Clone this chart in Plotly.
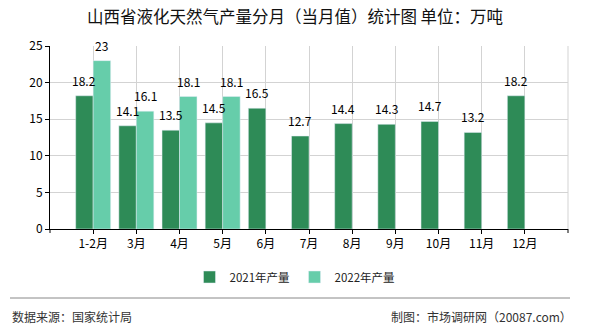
import plotly.graph_objects as go

months = ["1-2月", "3月", "4月", "5月", "6月", "7月", "8月", "9月", "10月", "11月", "12月"]
y2021 = [18.2, 14.1, 13.5, 14.5, 16.5, 12.7, 14.4, 14.3, 14.7, 13.2, 18.2]
y2022 = [23, 16.1, 18.1, 18.1, None, None, None, None, None, None, None]
name2021 = "2021年产量"
name2022 = "2022年产量"
title = "山西省液化天然气产量分月（当月值）统计图 单位：万吨"
source = "数据来源：国家统计局"
credit = "制图：市场调研网（20087.com）"
yticks = [0, 5, 10, 15, 20, 25]

FONT = "Noto Sans CJK SC"
DARK = "#2E8B57"
LIGHT = "#66CDAA"

# plot area in pixels
L, R, T, B = 50, 568, 46, 229
PW, PH = R - L, B - T
XRANGE = [-1, 11]
BARGAP = 0.19


def px(x):
    return (x - L) / PW


def py(y):
    return (B - y) / PH


def fmt(v):
    return "%g" % v


fig = go.Figure()
fig.add_trace(go.Bar(x=months, y=y2021, name=name2021, marker_color=DARK))
fig.add_trace(go.Bar(x=months, y=y2022, name=name2022, marker_color=LIGHT))

# value labels placed above each bar (bar half-width derived from axis geometry)
cat_px = PW / (XRANGE[1] - XRANGE[0])
half_bar = cat_px * (1 - BARGAP) / 4
for series, sign in ((y2021, -1), (y2022, 1)):
    for m, v in zip(months, series):
        if v is None:
            continue
        fig.add_annotation(x=m, y=v, text=fmt(v), showarrow=False,
                           xshift=sign * half_bar, yanchor="bottom", yshift=5,
                           font=dict(family=FONT, size=12, color="#000"))

fig.update_layout(
    width=590, height=330,
    margin=dict(l=L, r=590 - R, t=T, b=330 - B),
    paper_bgcolor="white", plot_bgcolor="white",
    barmode="group", bargap=BARGAP, bargroupgap=0,
    font=dict(family=FONT, size=11, color="#000"),
    title=dict(text=title, x=0.5, xanchor="center", y=1 - 17 / 330, yanchor="middle",
               font=dict(family=FONT, size=16.5, color="#111")),
    legend=dict(orientation="h", x=0.5, xanchor="center", xref="container",
                y=(330 - 277) / 330, yref="container", yanchor="middle",
                font=dict(family=FONT, size=11.5, color="#222"),
                traceorder="normal"),
    xaxis=dict(
        type="category", range=XRANGE,
        showline=True, linecolor="#000", linewidth=1,
        ticks="outside", ticklen=4, tickcolor="#000",
        showgrid=True, gridcolor="#d3d3d3", gridwidth=1,
        tickfont=dict(family=FONT, size=12, color="#000"),
    ),
    yaxis=dict(
        range=[0, 25], tickvals=yticks,
        showline=True, linecolor="#000", linewidth=1,
        ticks="outside", ticklen=4, tickcolor="#000",
        showgrid=True, gridcolor="#d3d3d3", gridwidth=1,
        zeroline=False,
        tickfont=dict(family=FONT, size=12, color="#000"),
    ),
)

# right border of plot area
fig.add_shape(type="line", xref="paper", yref="paper", x0=1, x1=1, y0=0, y1=1,
              line=dict(color="#d3d3d3", width=1), layer="below")
# end ticks on x axis
for xp in (0, 1):
    fig.add_shape(type="line", xref="paper", yref="paper", x0=xp, x1=xp, y0=0, y1=-4 / PH,
                  line=dict(color="#000", width=1))

# separator line above footer
fig.add_shape(type="line", xref="paper", yref="paper",
              x0=px(10), x1=px(570), y0=py(298), y1=py(298),
              line=dict(color="#888", width=1))

# watermark
fig.add_annotation(text="市场调研网", xref="paper", yref="paper",
                   x=px(250), y=py(165), showarrow=False,
                   font=dict(family=FONT, size=28, color="rgba(0,0,0,0.025)"))

# footer
fig.add_annotation(text=source, xref="paper", yref="paper", x=px(10), xanchor="left",
                   y=py(316), yanchor="middle", showarrow=False,
                   font=dict(family=FONT, size=12, color="#333"))
fig.add_annotation(text=credit, xref="paper", yref="paper", x=px(574), xanchor="right",
                   y=py(316), yanchor="middle", showarrow=False,
                   font=dict(family=FONT, size=12, color="#333"))

fig.write_html("out.html")
